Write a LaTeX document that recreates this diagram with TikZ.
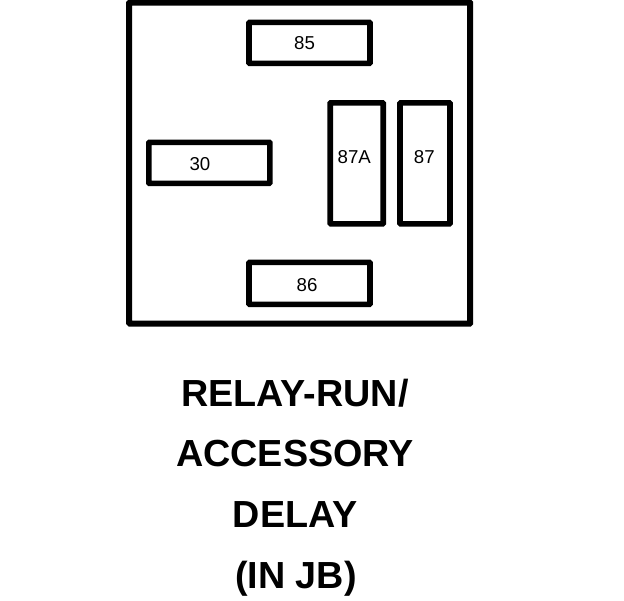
\documentclass[tikz,border=0pt]{standalone}
\usepackage{fontspec}
\setmainfont{Liberation Sans}
\begin{document}
\begin{tikzpicture}[x=0.75pt,y=-0.75pt,
  frameb/.style={draw=black,line width=4.5pt,fill=white,inner sep=0pt,rounded corners=0.5pt},
  pin/.style={draw=black,line width=4.2pt,fill=white,inner sep=0pt,rounded corners=0.5pt},
  pinlabel/.style={inner sep=0pt,font=\fontsize{14pt}{16pt}\selectfont},
  caption/.style={inner sep=0pt,font=\bfseries\fontsize{28.3pt}{32pt}\selectfont}]
\useasboundingbox (0,0) rectangle (624,600);
\fill[white] (0,0) rectangle (624,600);
\node[frameb,minimum width=255.75pt,minimum height=240.75pt] (frame) at (299.7,163) {};
\node[pin,minimum width=90.75pt,minimum height=30.75pt] (p85) at (309.5,42.8) {};
\node[pinlabel] (t85) at (304.5,43) {85};
\node[pin,minimum width=90.75pt,minimum height=30.75pt] (p30) at (209.3,162.8) {};
\node[pinlabel] (t30) at (200,164) {30};
\node[pin,minimum width=39.75pt,minimum height=90.75pt] (p87a) at (356.7,163.3) {};
\node[pinlabel] (t87a) at (354.3,157) {87A};
\node[pin,minimum width=37.5pt,minimum height=90.75pt] (p87) at (425,163.3) {};
\node[pinlabel] (t87) at (424.3,157) {87};
\node[pin,minimum width=90.75pt,minimum height=31.5pt] (p86) at (309.5,283.3) {};
\node[pinlabel] (t86) at (307,285) {86};
\node[caption] (c1) at (295,393) {RELAY-RUN/};
\node[caption] (c2) at (295,454) {ACCESSORY};
\node[caption] (c3) at (295,515) {DELAY};
\node[caption] (c4) at (296,579) {(IN JB)};
\end{tikzpicture}
\end{document}
